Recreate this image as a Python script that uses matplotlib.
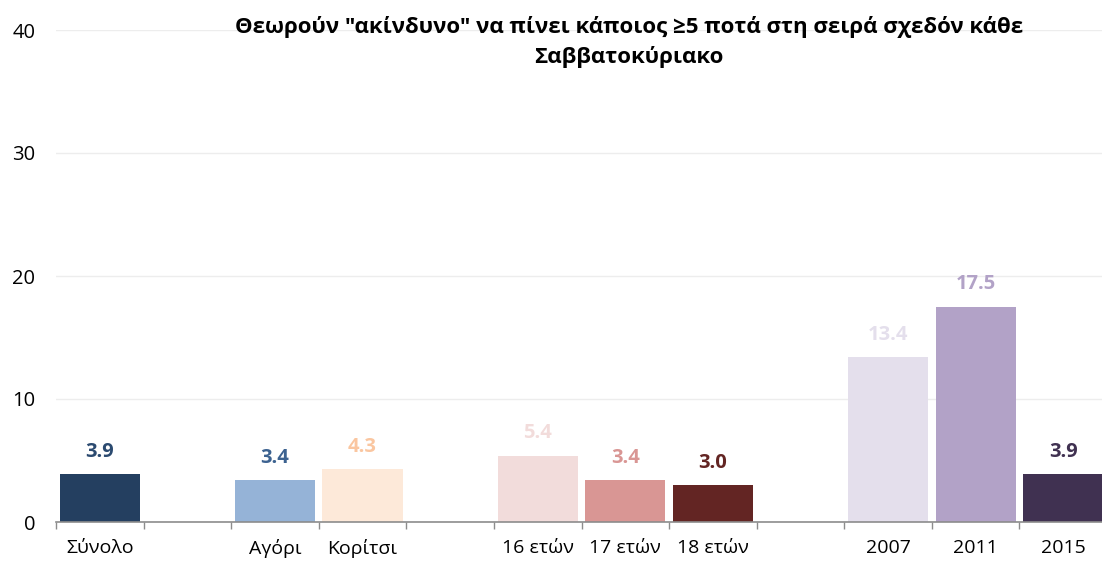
import matplotlib
matplotlib.use("Agg")
import matplotlib.pyplot as plt

categories = ["Σύνολο", "", "Αγόρι", "Κορίτσι", "", "16 ετών", "17 ετών", "18 ετών", "", "2007", "2011", "2015"]
values = [3.9, None, 3.4, 4.3, None, 5.4, 3.4, 3.0, None, 13.4, 17.5, 3.9]
bar_colors = ["#243F60", None, "#95B3D7", "#FDE9D9", None, "#F2DCDB", "#D99694", "#632523", None, "#E4DFEC", "#B2A2C7", "#403151"]
label_colors = ["#2B4A70", None, "#3C6290", "#FAC6A0", None, "#F2DCDB", "#D99694", "#632523", None, "#E4DFEC", "#B2A2C7", "#403151"]
title = "Θεωρούν \"ακίνδυνο\" να πίνει κάποιος ≥5 ποτά στη σειρά σχεδόν κάθε\nΣαββατοκύριακο"
yticks = [0, 10, 20, 30, 40]

plt.rcParams['font.family'] = ['Open Sans', 'DejaVu Sans']

W, H = 1102, 563
fig = plt.figure(figsize=(W / 100, H / 100), dpi=100)
ax = fig.add_axes([56 / W, 41 / H, (1107 - 56) / W, 492 / H])

xs = list(range(len(categories)))
for x, v, c, lc in zip(xs, values, bar_colors, label_colors):
    if v is None:
        continue
    ax.bar(x, v, width=0.915, color=c, zorder=2)
    ax.annotate(f"{v:.1f}", (x, v), xytext=(0, 9), textcoords="offset points",
                ha="center", va="bottom", fontsize=14.5, fontweight="bold", color=lc)

ax.set_xlim(-0.5, len(categories) - 0.5)
ax.set_ylim(0, 40)
ax.set_yticks(yticks)
ax.set_yticklabels([str(t) for t in yticks], fontsize=14.5)
ax.tick_params(axis="y", length=0, pad=15)
ax.yaxis.grid(True, color="#EDEDED", linewidth=1, zorder=0)
ax.set_axisbelow(True)

ax.set_xticks(xs)
ax.set_xticklabels(categories, fontsize=14)
ax.tick_params(axis="x", length=0, pad=12)
ax.set_xticks([x - 0.5 for x in range(len(categories) + 1)], minor=True)
ax.tick_params(axis="x", which="minor", length=5, color="#8C8C8C", width=1)

for s in ["top", "right", "left"]:
    ax.spines[s].set_visible(False)
ax.spines["bottom"].set_color("#8C8C8C")
ax.spines["bottom"].set_linewidth(1.2)

fig.text(629 / W, 1 - 42 / H, title, ha="center", va="center", fontsize=16,
         fontweight="bold", linespacing=1.45)

fig.savefig("out.png", dpi=100)
